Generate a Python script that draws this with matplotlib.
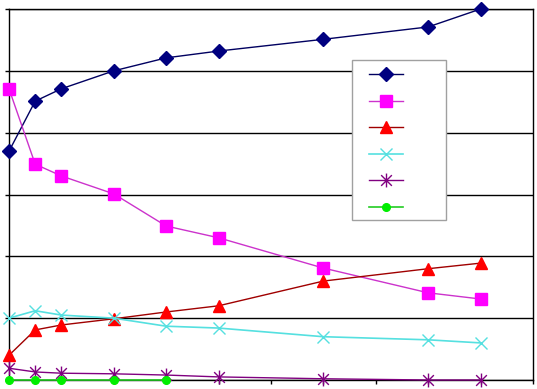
import matplotlib
matplotlib.use("Agg")
import matplotlib.pyplot as plt
from matplotlib.path import Path
from matplotlib.patches import Rectangle

# data (no labels visible in the original)
x_vals = [0, 1, 2, 4, 6, 8, 12, 16, 18]
s_navy = [3.70, 4.51, 4.71, 5.00, 5.21, 5.32, 5.51, 5.71, 6.00]
s_magenta = [4.71, 3.49, 3.30, 3.01, 2.49, 2.30, 1.81, 1.41, 1.31]
s_red = [0.40, 0.81, 0.89, 0.99, 1.10, 1.20, 1.60, 1.80, 1.89]
s_cyan = [1.00, 1.12, 1.05, 1.00, 0.87, 0.84, 0.70, 0.65, 0.60]
s_purple = [0.19, 0.13, 0.11, 0.10, 0.08, 0.05, 0.02, 0.00, 0.00]
x_green = [0, 1, 2, 4, 6]
s_green = [0.00, 0.00, 0.00, 0.00, 0.00]
legend_labels = [" ", " ", " ", " ", " ", " "]

# excel-style star: an x with a vertical bar
star = Path([(-1, -1), (1, 1), (-1, 1), (1, -1), (0, -1.3), (0, 1.3)],
            [Path.MOVETO, Path.LINETO, Path.MOVETO, Path.LINETO,
             Path.MOVETO, Path.LINETO])

W, H = 537, 389
fig = plt.figure(figsize=(W / 100, H / 100), dpi=100)
ax = fig.add_axes([9 / W, 9 / H, 524 / W, 371 / H])

lines = []
lines += ax.plot(x_vals, s_navy, color="#000060", lw=1, marker="D", ms=7.5,
                 mfc="#000080", mec="#000080", clip_on=False, zorder=3)
lines += ax.plot(x_vals, s_magenta, color="#CC33CC", lw=1, marker="s", ms=9,
                 mfc="#FF00FF", mec="#FF00FF", clip_on=False, zorder=3)
lines += ax.plot(x_vals, s_red, color="#A00000", lw=1, marker="^", ms=9,
                 mfc="#FF0000", mec="#FF0000", clip_on=False, zorder=3)
lines += ax.plot(x_vals, s_cyan, color="#55E0E0", lw=1.2, marker="x", ms=9,
                 mew=1, mec="#55E0E0", clip_on=False, zorder=3)
lines += ax.plot(x_vals, s_purple, color="#800080", lw=1, marker=star, ms=10,
                 mew=1, mec="#800080", clip_on=False, zorder=3)
lines += ax.plot(x_green, s_green, color="#22CC22", lw=1.2, marker="o", ms=5.5,
                 mfc="#00EE00", mec="#00EE00", clip_on=False, zorder=3)

ax.set_xlim(0, 20)
ax.set_ylim(0, 6)
ax.set_xticks(range(0, 21, 2))
ax.set_yticks(range(0, 7))
ax.set_xticklabels([])
ax.set_yticklabels([])
ax.tick_params(direction="out", length=3, width=1, color="black")
ax.grid(axis="y", color="black", lw=1)
ax.set_axisbelow(True)
for sp in ax.spines.values():
    sp.set_color("black")
    sp.set_linewidth(1)

# legend box (frame drawn separately so padding matches the original)
box = Rectangle(((352 - 9) / 524, (380 - 220) / 371), 94 / 524, 160 / 371,
                transform=ax.transAxes, facecolor="white", edgecolor="#A0A0A0",
                lw=1, zorder=5, clip_on=False)
ax.add_patch(box)
leg = ax.legend(lines, legend_labels, loc="upper left",
                bbox_to_anchor=((369 - 9) / 524, (380 - 68) / 371),
                frameon=False, borderpad=0, borderaxespad=0,
                handlelength=2.45, handletextpad=0.3, labelspacing=0.9,
                fontsize=10)
leg.set_zorder(6)

fig.savefig("out.png", dpi=100)
